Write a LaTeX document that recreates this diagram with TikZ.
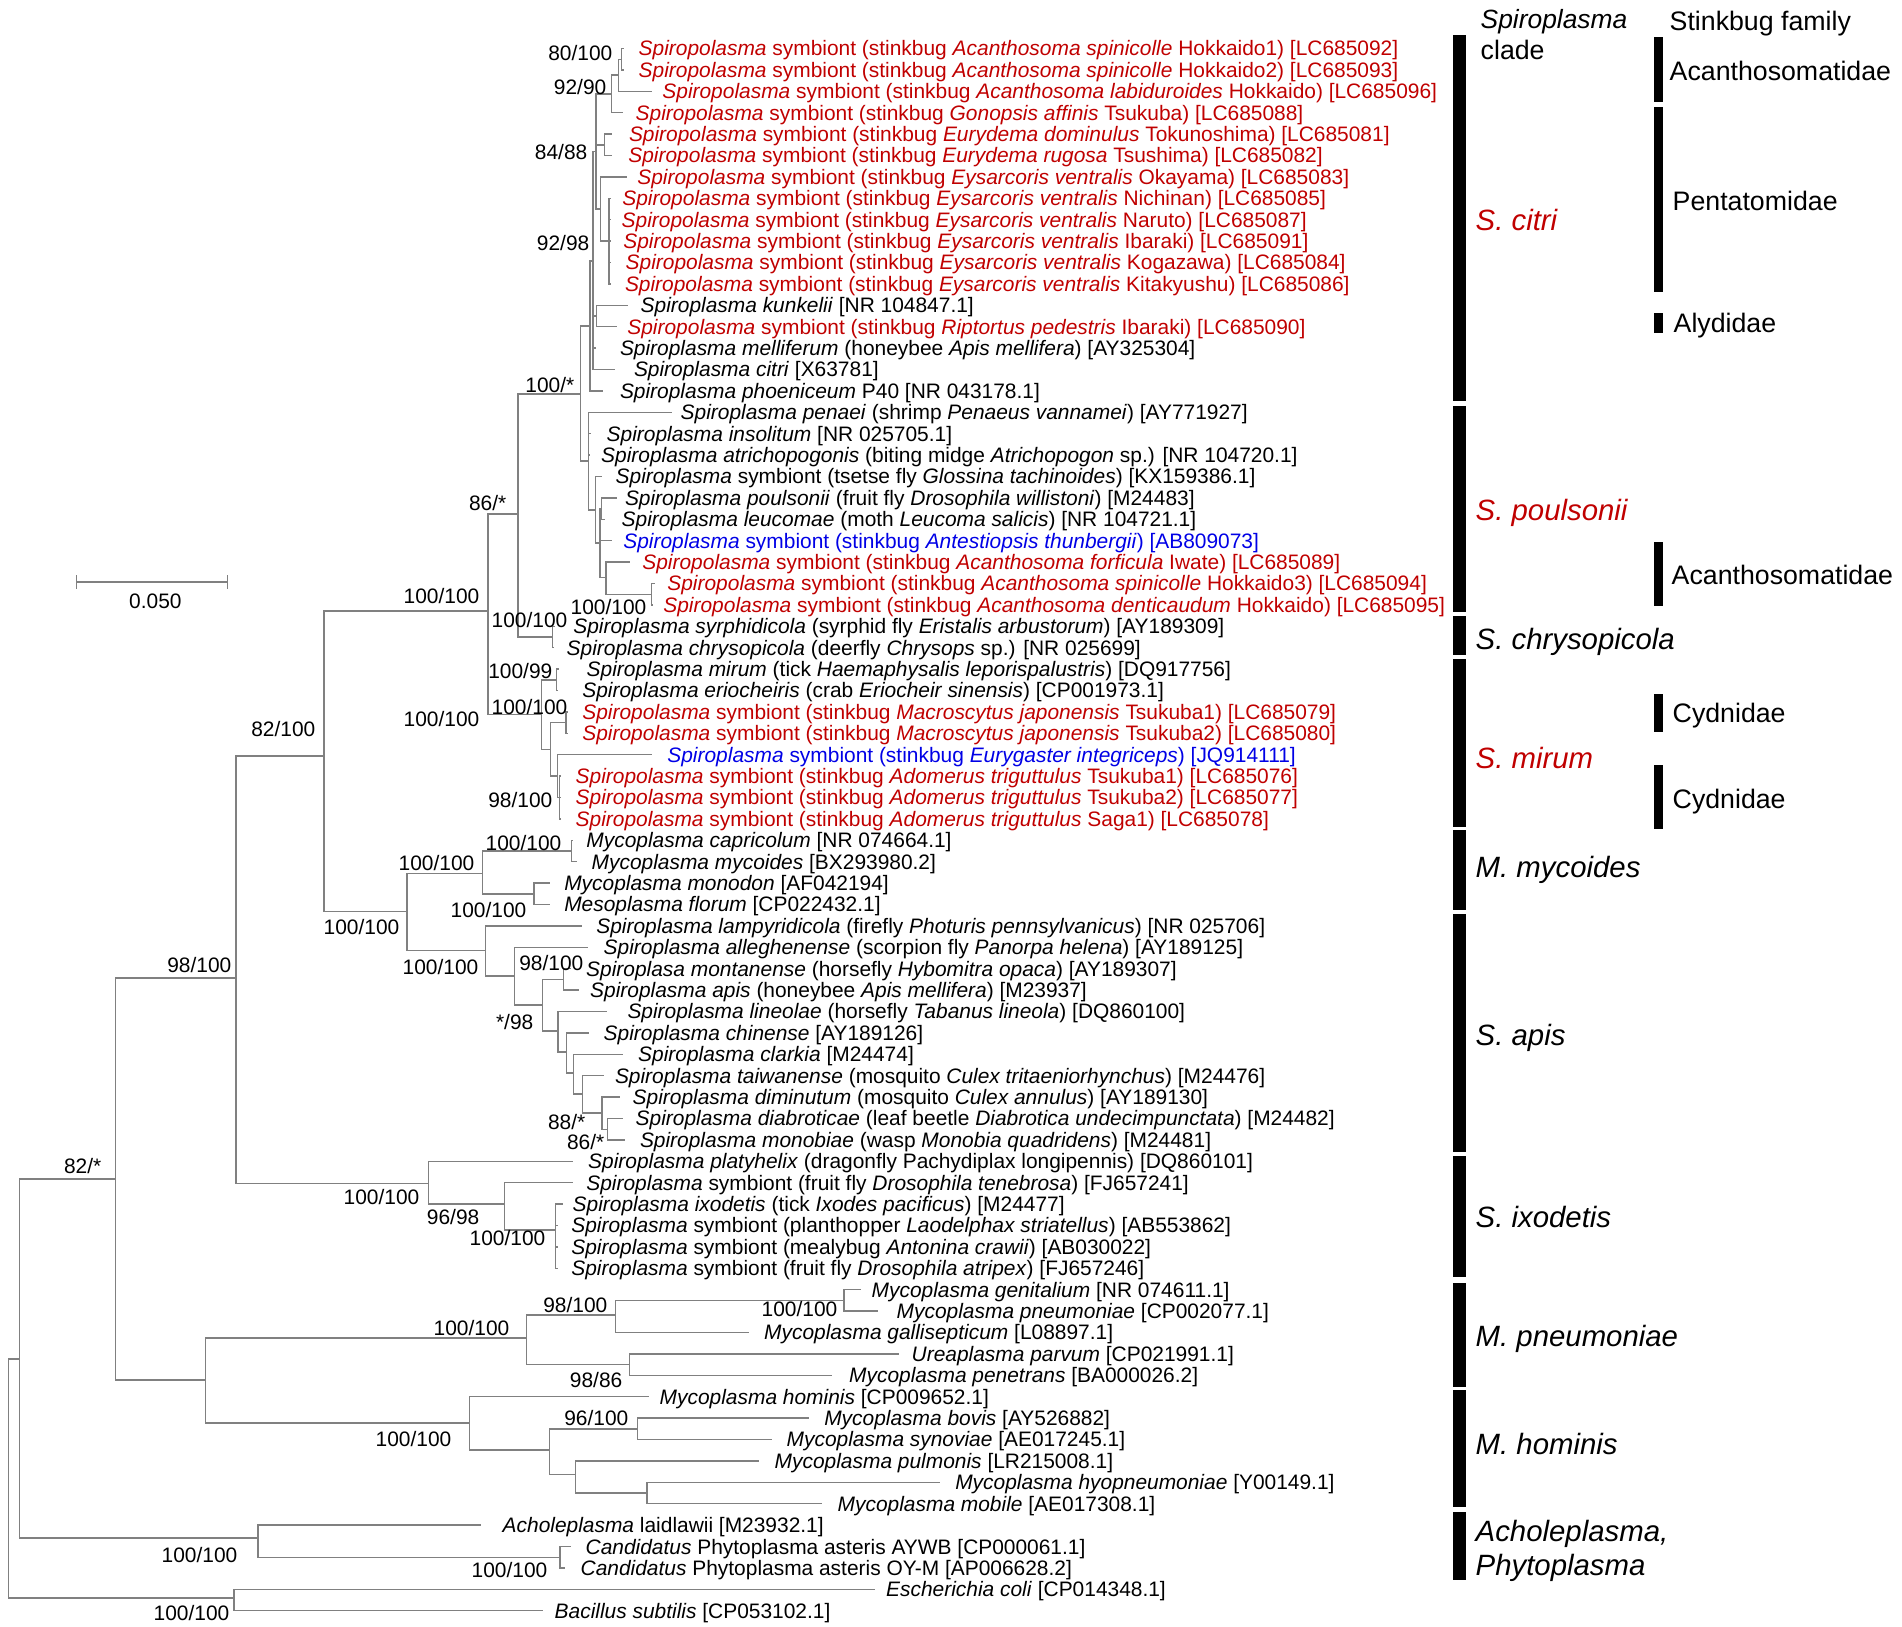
\documentclass[tikz,border=0pt]{standalone}
\usepackage{fontspec}
\setmainfont{Liberation Sans}
\definecolor{stkred}{RGB}{192,0,0}
\definecolor{stkblue}{RGB}{0,0,230}
\definecolor{branch}{RGB}{128,128,128}
\usetikzlibrary{positioning}

\begin{document}
\begin{tikzpicture}[x=0.01cm,y=-0.01cm,
    every node/.style={inner sep=0pt,font=\fontsize{5.95}{7}\selectfont},
    sp/.style={anchor=west,text height=4.25pt,text depth=0pt},
    stk/.style={sp,text=stkred},
    stb/.style={sp,text=stkblue},
    bs/.style={anchor=east,text height=4.25pt,text depth=0pt},
    br/.style={draw=branch,line width=0.4pt},
    clade/.style={anchor=west,text height=6pt,text depth=0pt,font=\fontsize{8.35}{10}\selectfont\itshape},
    fam/.style={anchor=west,text height=5.4pt,text depth=0pt,font=\fontsize{7.6}{9}\selectfont}
    ]
    \useasboundingbox (0,0) rectangle (1902,1626);

    % S. citri
    \coordinate (b1) at (624,48.5);    \node (t1) [stk] at (638,48.5) {\textit{Spiropolasma} symbiont (stinkbug \textit{Acanthosoma spinicolle} Hokkaido1) [LC685092]};
    \coordinate (b2) at (624,69.9);    \node (t2) [stk] at (638,69.9) {\textit{Spiropolasma} symbiont (stinkbug \textit{Acanthosoma spinicolle} Hokkaido2) [LC685093]};
    \coordinate (b3) at (651.7,91.3);  \node (t3) [stk] at (661.7,91.3) {\textit{Spiropolasma} symbiont (stinkbug \textit{Acanthosoma labiduroides} Hokkaido) [LC685096]};
    \coordinate (b4) at (623,112.7);   \node (t4) [stk] at (635,112.7) {\textit{Spiropolasma} symbiont (stinkbug \textit{Gonopsis affinis} Tsukuba) [LC685088]};
    \coordinate (b5) at (612,134.1);   \node (t5) [stk] at (628.3,134.1) {\textit{Spiropolasma} symbiont (stinkbug \textit{Eurydema dominulus} Tokunoshima) [LC685081]};
    \coordinate (b6) at (612,155.5);   \node (t6) [stk] at (627.7,155.5) {\textit{Spiropolasma} symbiont (stinkbug \textit{Eurydema rugosa} Tsushima) [LC685082]};
    \coordinate (b7) at (627,176.9);   \node (t7) [stk] at (636.7,176.9) {\textit{Spiropolasma} symbiont (stinkbug \textit{Eysarcoris ventralis} Okayama) [LC685083]};
    \coordinate (b8) at (611,198.3);   \node (t8) [stk] at (621.7,198.3) {\textit{Spiropolasma} symbiont (stinkbug \textit{Eysarcoris ventralis} Nichinan) [LC685085]};
    \coordinate (b9) at (611,219.7);   \node (t9) [stk] at (621,219.7) {\textit{Spiropolasma} symbiont (stinkbug \textit{Eysarcoris ventralis} Naruto) [LC685087]};
    \coordinate (b10) at (611,241.1);  \node (t10) [stk] at (622.7,241.1) {\textit{Spiropolasma} symbiont (stinkbug \textit{Eysarcoris ventralis} Ibaraki) [LC685091]};
    \coordinate (b11) at (611,262.5);  \node (t11) [stk] at (625,262.5) {\textit{Spiropolasma} symbiont (stinkbug \textit{Eysarcoris ventralis} Kogazawa) [LC685084]};
    \coordinate (b12) at (611,283.9);  \node (t12) [stk] at (624.3,283.9) {\textit{Spiropolasma} symbiont (stinkbug \textit{Eysarcoris ventralis} Kitakyushu) [LC685086]};
    \coordinate (b13) at (628,305.3);  \node (t13) [sp] at (640,305.3) {\textit{Spiroplasma kunkelii} [NR 104847.1]};
    \coordinate (b14) at (616.7,326.7); \node (t14) [stk] at (626.7,326.7) {\textit{Spiropolasma} symbiont (stinkbug \textit{Riptortus pedestris} Ibaraki) [LC685090]};
    \coordinate (b15) at (596,348.1);  \node (t15) [sp] at (619.3,348.1) {\textit{Spiroplasma melliferum} (honeybee \textit{Apis mellifera}) [AY325304]};
    \coordinate (b16) at (615,369.5);  \node (t16) [sp] at (633.3,369.5) {\textit{Spiroplasma citri} [X63781]};
    \coordinate (b17) at (603,390.9);  \node (t17) [sp] at (619.3,390.9) {\textit{Spiroplasma phoeniceum} P40 [NR 043178.1]};

    % S. poulsonii
    \coordinate (b18) at (672,412.3);  \node (t18) [sp] at (680,412.3) {\textit{Spiroplasma penaei} (shrimp \textit{Penaeus vannamei}) [AY771927]};
    \coordinate (b19) at (591,433.7);  \node (t19) [sp] at (606,433.7) {\textit{Spiroplasma insolitum} [NR 025705.1]};
    \coordinate (b20) at (590,455.1);  \node (t20) [sp] at (600.5,455.1) {\textit{Spiroplasma atrichopogonis} (biting midge \textit{Atrichopogon} sp.) [NR 104720.1]};
    \coordinate (b21) at (601.7,476.5); \node (t21) [sp] at (615,476.5) {\textit{Spiroplasma} symbiont (tsetse fly \textit{Glossina tachinoides}) [KX159386.1]};
    \coordinate (b22) at (616.7,497.9); \node (t22) [sp] at (624.3,497.9) {\textit{Spiroplasma poulsonii} (fruit fly \textit{Drosophila willistoni}) [M24483]};
    \coordinate (b23) at (605,519.3);  \node (t23) [sp] at (621,519.3) {\textit{Spiroplasma leucomae} (moth \textit{Leucoma salicis}) [NR 104721.1]};
    \coordinate (b24) at (611.7,540.7); \node (t24) [stb] at (622.7,540.7) {\textit{Spiroplasma} symbiont (stinkbug \textit{Antestiopsis thunbergii}) [AB809073]};
    \coordinate (b25) at (630,562.1);  \node (t25) [stk] at (641.7,562.1) {\textit{Spiropolasma} symbiont (stinkbug \textit{Acanthosoma forficula} Iwate) [LC685089]};
    \coordinate (b26) at (655,583.5);  \node (t26) [stk] at (666.7,583.5) {\textit{Spiropolasma} symbiont (stinkbug \textit{Acanthosoma spinicolle} Hokkaido3) [LC685094]};
    \coordinate (b27) at (653,604.9);  \node (t27) [stk] at (662.7,604.9) {\textit{Spiropolasma} symbiont (stinkbug \textit{Acanthosoma denticaudum} Hokkaido) [LC685095]};
    \coordinate (b28) at (555,626.3);  \node (t28) [sp] at (572.7,626.3) {\textit{Spiroplasma syrphidicola} (syrphid fly \textit{Eristalis arbustorum}) [AY189309]};
    \coordinate (b29) at (554,647.7);  \node (t29) [sp] at (566,647.7) {\textit{Spiroplasma chrysopicola} (deerfly \textit{Chrysops} sp.) [NR 025699]};

    % S. mirum
    \coordinate (b30) at (559,669.1);  \node (t30) [sp] at (586,669.1) {\textit{Spiroplasma mirum} (tick \textit{Haemaphysalis leporispalustris}) [DQ917756]};
    \coordinate (b31) at (557,690.5);  \node (t31) [sp] at (581.7,690.5) {\textit{Spiroplasma eriocheiris} (crab \textit{Eriocheir sinensis}) [CP001973.1]};
    \coordinate (b32) at (568,711.9);  \node (t32) [stk] at (581.7,711.9) {\textit{Spiropolasma} symbiont (stinkbug \textit{Macroscytus japonensis} Tsukuba1) [LC685079]};
    \coordinate (b33) at (568,733.3);  \node (t33) [stk] at (581.7,733.3) {\textit{Spiropolasma} symbiont (stinkbug \textit{Macroscytus japonensis} Tsukuba2) [LC685080]};
    \coordinate (b34) at (651.7,754.7); \node (t34) [stb] at (666.7,754.7) {\textit{Spiroplasma} symbiont (stinkbug \textit{Eurygaster integriceps}) [JQ914111]};
    \coordinate (b35) at (561,776.1);  \node (t35) [stk] at (575,776.1) {\textit{Spiropolasma} symbiont (stinkbug \textit{Adomerus triguttulus} Tsukuba1) [LC685076]};
    \coordinate (b36) at (561,797.5);  \node (t36) [stk] at (575,797.5) {\textit{Spiropolasma} symbiont (stinkbug \textit{Adomerus triguttulus} Tsukuba2) [LC685077]};
    \coordinate (b37) at (561,818.9);  \node (t37) [stk] at (575,818.9) {\textit{Spiropolasma} symbiont (stinkbug \textit{Adomerus triguttulus} Saga1) [LC685078]};

    % M. mycoides
    \coordinate (b38) at (573,840.3);  \node (t38) [sp] at (585.7,840.3) {\textit{Mycoplasma capricolum} [NR 074664.1]};
    \coordinate (b39) at (576.8,861.7); \node (t39) [sp] at (591,861.7) {\textit{Mycoplasma mycoides} [BX293980.2]};
    \coordinate (b40) at (550,883.1);  \node (t40) [sp] at (563.6,883.1) {\textit{Mycoplasma monodon} [AF042194]};
    \coordinate (b41) at (550,904.5);  \node (t41) [sp] at (563.6,904.5) {\textit{Mesoplasma florum} [CP022432.1]};

    % S. apis
    \coordinate (b42) at (582,925.9);  \node (t42) [sp] at (595.7,925.9) {\textit{Spiroplasma lampyridicola} (firefly \textit{Photuris pennsylvanicus}) [NR 025706]};
    \coordinate (b43) at (588,947.3);  \node (t43) [sp] at (603,947.3) {\textit{Spiroplasma alleghenense} (scorpion fly \textit{Panorpa helena}) [AY189125]};
    \coordinate (b44) at (571,968.7);  \node (t44) [sp] at (585.5,968.7) {\textit{Spiroplasa montanense} (horsefly \textit{Hybomitra opaca}) [AY189307]};
    \coordinate (b45) at (578.5,990.1); \node (t45) [sp] at (589.5,990.1) {\textit{Spiroplasma apis} (honeybee \textit{Apis mellifera}) [M23937]};
    \coordinate (b46) at (606.5,1011.5); \node (t46) [sp] at (626.8,1011.5) {\textit{Spiroplasma lineolae} (horsefly \textit{Tabanus lineola}) [DQ860100]};
    \coordinate (b47) at (589,1032.9); \node (t47) [sp] at (603,1032.9) {\textit{Spiroplasma chinense} [AY189126]};
    \coordinate (b48) at (623.2,1054.3); \node (t48) [sp] at (637.5,1054.3) {\textit{Spiroplasma clarkia} [M24474]};
    \coordinate (b49) at (603.5,1075.7); \node (t49) [sp] at (614.3,1075.7) {\textit{Spiroplasma taiwanense} (mosquito \textit{Culex tritaeniorhynchus}) [M24476]};
    \coordinate (b50) at (619.5,1097.1); \node (t50) [sp] at (632,1097.1) {\textit{Spiroplasma diminutum} (mosquito \textit{Culex annulus}) [AY189130]};
    \coordinate (b51) at (622.5,1118.5); \node (t51) [sp] at (635,1118.5) {\textit{Spiroplasma diabroticae} (leaf beetle \textit{Diabrotica undecimpunctata}) [M24482]};
    \coordinate (b52) at (625,1139.9); \node (t52) [sp] at (639.3,1139.9) {\textit{Spiroplasma monobiae} (wasp \textit{Monobia quadridens}) [M24481]};

    % S. ixodetis
    \coordinate (b53) at (573.2,1161.3); \node (t53) [sp] at (587.5,1161.3) {\textit{Spiroplasma platyhelix} (dragonfly Pachydiplax longipennis) [DQ860101]};
    \coordinate (b54) at (573.2,1182.7); \node (t54) [sp] at (585.7,1182.7) {\textit{Spiroplasma} symbiont (fruit fly \textit{Drosophila tenebrosa}) [FJ657241]};
    \coordinate (b55) at (562.5,1204.1); \node (t55) [sp] at (572,1204.1) {\textit{Spiroplasma ixodetis} (tick \textit{Ixodes pacificus}) [M24477]};
    \coordinate (b56) at (558,1225.5); \node (t56) [sp] at (570.7,1225.5) {\textit{Spiroplasma} symbiont (planthopper \textit{Laodelphax striatellus}) [AB553862]};
    \coordinate (b57) at (558,1246.9); \node (t57) [sp] at (570.7,1246.9) {\textit{Spiroplasma} symbiont (mealybug \textit{Antonina crawii}) [AB030022]};
    \coordinate (b58) at (558,1268.3); \node (t58) [sp] at (570.7,1268.3) {\textit{Spiroplasma} symbiont (fruit fly \textit{Drosophila atripex}) [FJ657246]};

    % M. pneumoniae, M. hominis
    \coordinate (b59) at (861,1289.7); \node (t59) [sp] at (871,1289.7) {\textit{Mycoplasma genitalium} [NR 074611.1]};
    \coordinate (b60) at (878,1311.1); \node (t60) [sp] at (896,1311.1) {\textit{Mycoplasma pneumoniae} [CP002077.1]};
    \coordinate (b61) at (749,1332.5); \node (t61) [sp] at (763.5,1332.5) {\textit{Mycoplasma gallisepticum} [L08897.1]};
    \coordinate (b62) at (899,1353.9); \node (t62) [sp] at (911,1353.9) {\textit{Ureaplasma parvum} [CP021991.1]};
    \coordinate (b63) at (832.4,1375.3); \node (t63) [sp] at (848.5,1375.3) {\textit{Mycoplasma penetrans} [BA000026.2]};
    \coordinate (b64) at (648.7,1396.7); \node (t64) [sp] at (659,1396.7) {\textit{Mycoplasma hominis} [CP009652.1]};
    \coordinate (b65) at (809.4,1418.1); \node (t65) [sp] at (823.6,1418.1) {\textit{Mycoplasma bovis} [AY526882]};
    \coordinate (b66) at (772,1439.5); \node (t66) [sp] at (786,1439.5) {\textit{Mycoplasma synoviae} [AE017245.1]};
    \coordinate (b67) at (759,1460.9); \node (t67) [sp] at (774,1460.9) {\textit{Mycoplasma pulmonis} [LR215008.1]};
    \coordinate (b68) at (940,1482.3); \node (t68) [sp] at (954.6,1482.3) {\textit{Mycoplasma hyopneumoniae} [Y00149.1]};
    \coordinate (b69) at (822,1503.7); \node (t69) [sp] at (837,1503.7) {\textit{Mycoplasma mobile} [AE017308.1]};

    % outgroups
    \coordinate (b70) at (481,1525.1); \node (t70) [sp] at (502,1525.1) {\textit{Acholeplasma} laidlawii [M23932.1]};
    \coordinate (b71) at (571,1546.5); \node (t71) [sp] at (585,1546.5) {\textit{Candidatus} Phytoplasma asteris AYWB [CP000061.1]};
    \coordinate (b72) at (565,1567.9); \node (t72) [sp] at (580,1567.9) {\textit{Candidatus} Phytoplasma asteris OY-M [AP006628.2]};
    \coordinate (b73) at (875,1589.3); \node (t73) [sp] at (885.5,1589.3) {\textit{Escherichia coli} [CP014348.1]};
    \coordinate (b74) at (542.5,1610.7); \node (t74) [sp] at (554,1610.7) {\textit{Bacillus subtilis} [CP053102.1]};

    % inner nodes
    \coordinate (n12) at (621.7,59.2);
    \coordinate (n13) at (618.3,75);
    \coordinate (n14) at (611.7,94);
    \coordinate (n56) at (604.3,144.8);
    \coordinate (n812) at (609,241);
    \coordinate (n712) at (600.5,209);
    \coordinate (na) at (596,151.5);
    \coordinate (n1314) at (596.5,316);
    \coordinate (nd) at (593,261);
    \coordinate (nc) at (590,326);
    \coordinate (ncit) at (580.5,394);
    \coordinate (npou) at (588.5,461);
    \coordinate (nu) at (595.5,510);
    \coordinate (nr) at (600,543);
    \coordinate (n2223) at (601.7,508.6);
    \coordinate (ns) at (606,577.4);
    \coordinate (nt) at (651.7,594.2);
    \coordinate (nl) at (518,514);
    \coordinate (nsc) at (552.5,637);
    \coordinate (nk) at (488,611);
    \coordinate (nmir) at (541.7,714.5);
    \coordinate (nw) at (556.5,679.8);
    \coordinate (nx) at (550.7,749.3);
    \coordinate (ny) at (566,722.6);
    \coordinate (nz) at (557.3,776);
    \coordinate (nad) at (559.3,797.5);
    \coordinate (nj) at (324,756);
    \coordinate (no) at (407,911.6);
    \coordinate (nmyc) at (482.4,873.7);
    \coordinate (n3839) at (571.4,851);
    \coordinate (n4041) at (534,893.8);
    \coordinate (a1) at (485.7,950.7);
    \coordinate (a2) at (514.3,976);
    \coordinate (a3) at (542.5,1005);
    \coordinate (a4) at (563.3,979.4);
    \coordinate (a5) at (558,1031);
    \coordinate (a6) at (566.3,1052);
    \coordinate (a7) at (573.3,1073);
    \coordinate (a8) at (582.4,1094);
    \coordinate (a9) at (602,1113);
    \coordinate (a10) at (607.6,1129.2);
    \coordinate (ne) at (236,978);
    \coordinate (x1) at (428.6,1183.3);
    \coordinate (x2) at (504.3,1204);
    \coordinate (x3) at (555.4,1230);
    \coordinate (nbig) at (115.7,1179);
    \coordinate (nf) at (205.5,1380);
    \coordinate (g1) at (526.4,1338);
    \coordinate (g2) at (615.4,1315);
    \coordinate (g3) at (843.9,1300.4);
    \coordinate (g4) at (629.7,1364.6);
    \coordinate (h1) at (469.6,1423);
    \coordinate (h2) at (549.4,1450);
    \coordinate (h3) at (637.2,1428.8);
    \coordinate (h4) at (575.2,1474.3);
    \coordinate (h5) at (647,1493);
    \coordinate (nach) at (258,1538);
    \coordinate (nphy) at (560,1557.2);
    \coordinate (nmol) at (19.5,1359);
    \coordinate (nout) at (234,1598);
    \coordinate (root) at (8.5,1478);

    % the edges
    \draw [br] (n12) |- (b1) (n12) |- (b2);
    \draw [br] (n13) |- (n12) (n13) |- (b3);
    \draw [br] (n14) |- (n13) (n14) |- (b4);
    \draw [br] (n56) |- (b5) (n56) |- (b6);
    \draw [br] (n812) |- (b8) (n812) |- (b9) (n812) |- (b10) (n812) |- (b11) (n812) |- (b12);
    \draw [br] (n712) |- (b7) (n712) |- (n812);
    \draw [br] (na) |- (n14) (na) |- (n56) (na) |- (n712);
    \draw [br] (n1314) |- (b13) (n1314) |- (b14);
    \draw [br] (nd) |- (na) (nd) |- (n1314) (nd) |- (b15) (nd) |- (b16);
    \draw [br] (nc) |- (nd) (nc) |- (b17);
    \draw [br] (ncit) |- (nc) (ncit) |- (npou);
    \draw [br] (npou) |- (b18) (npou) |- (b19) (npou) |- (b20) (npou) |- (nu);
    \draw [br] (nu) |- (b21) (nu) |- (nr);
    \draw [br] (nr) |- (n2223) (nr) |- (b24) (nr) |- (ns);
    \draw [br] (n2223) |- (b22) (n2223) |- (b23);
    \draw [br] (ns) |- (b25) (ns) |- (nt);
    \draw [br] (nt) |- (b26) (nt) |- (b27);
    \draw [br] (nl) |- (ncit) (nl) |- (nsc);
    \draw [br] (nsc) |- (b28) (nsc) |- (b29);
    \draw [br] (nk) |- (nl) (nk) |- (nmir);
    \draw [br] (nmir) |- (nw) (nmir) |- (nx);
    \draw [br] (nw) |- (b30) (nw) |- (b31);
    \draw [br] (nx) |- (ny) (nx) |- (nz);
    \draw [br] (ny) |- (b32) (ny) |- (b33);
    \draw [br] (nz) |- (b34) (nz) |- (nad);
    \draw [br] (nad) |- (b35) (nad) |- (b36) (nad) |- (b37);
    \draw [br] (nj) |- (nk) (nj) |- (no);
    \draw [br] (no) |- (nmyc) (no) |- (a1);
    \draw [br] (nmyc) |- (n3839) (nmyc) |- (n4041);
    \draw [br] (n3839) |- (b38) (n3839) |- (b39);
    \draw [br] (n4041) |- (b40) (n4041) |- (b41);
    \draw [br] (a1) |- (b42) (a1) |- (a2);
    \draw [br] (a2) |- (b43) (a2) |- (a3);
    \draw [br] (a3) |- (a4) (a3) |- (a5);
    \draw [br] (a4) |- (b44) (a4) |- (b45);
    \draw [br] (a5) |- (b46) (a5) |- (a6);
    \draw [br] (a6) |- (b47) (a6) |- (a7);
    \draw [br] (a7) |- (b48) (a7) |- (a8);
    \draw [br] (a8) |- (b49) (a8) |- (a9);
    \draw [br] (a9) |- (b50) (a9) |- (a10);
    \draw [br] (a10) |- (b51) (a10) |- (b52);
    \draw [br] (ne) |- (nj) (ne) |- (x1);
    \draw [br] (x1) |- (b53) (x1) |- (x2);
    \draw [br] (x2) |- (b54) (x2) |- (x3);
    \draw [br] (x3) |- (b55) (x3) |- (b56) (x3) |- (b57) (x3) |- (b58);
    \draw [br] (nbig) |- (ne) (nbig) |- (nf);
    \draw [br] (nf) |- (g1) (nf) |- (h1);
    \draw [br] (g1) |- (g2) (g1) |- (g4);
    \draw [br] (g2) |- (g3) (g2) |- (b61);
    \draw [br] (g3) |- (b59) (g3) |- (b60);
    \draw [br] (g4) |- (b62) (g4) |- (b63);
    \draw [br] (h1) |- (b64) (h1) |- (h2);
    \draw [br] (h2) |- (h3) (h2) |- (h4);
    \draw [br] (h3) |- (b65) (h3) |- (b66);
    \draw [br] (h4) |- (b67) (h4) |- (h5);
    \draw [br] (h5) |- (b68) (h5) |- (b69);
    \draw [br] (nach) |- (b70) (nach) |- (nphy);
    \draw [br] (nphy) |- (b71) (nphy) |- (b72);
    \draw [br] (nmol) |- (nbig) (nmol) |- (nach);
    \draw [br] (nout) |- (b73) (nout) |- (b74);
    \draw [br] (root) |- (nmol) (root) |- (nout);

    % support values
    \node (s1) [bs] at (613,53) {80/100};
    \node (s2) [bs] at (607,87) {92/90};
    \node (s3) [bs] at (588,152) {84/88};
    \node (s4) [bs] at (590,243) {92/98};
    \node (s5) [bs] at (575,385) {100/*};
    \node (s6) [bs] at (507,503) {86/*};
    \node (s7) [bs] at (480,596) {100/100};
    \node (s8) [bs] at (647,607) {100/100};
    \node (s9) [bs] at (568,620) {100/100};
    \node (s10) [bs] at (553,671) {100/99};
    \node (s11) [bs] at (568,707) {100/100};
    \node (s12) [bs] at (480,719) {100/100};
    \node (s13) [bs] at (553,800) {98/100};
    \node (s14) [bs] at (316,729) {82/100};
    \node (s15) [bs] at (562,843) {100/100};
    \node (s16) [bs] at (475,863) {100/100};
    \node (s17) [bs] at (527,910) {100/100};
    \node (s18) [bs] at (400,927) {100/100};
    \node (s19) [bs] at (479,967) {100/100};
    \node (s20) [bs] at (584,963) {98/100};
    \node (s21) [bs] at (534,1022) {*/98};
    \node (s22) [bs] at (586,1122) {88/*};
    \node (s23) [bs] at (605,1142) {86/*};
    \node (s24) [bs] at (420,1197) {100/100};
    \node (s25) [bs] at (480,1217) {96/98};
    \node (s26) [bs] at (546,1238) {100/100};
    \node (s27) [bs] at (232,965) {98/100};
    \node (s28) [bs] at (102,1166) {82/*};
    \node (s29) [bs] at (608,1305) {98/100};
    \node (s30) [bs] at (510,1328) {100/100};
    \node (s31) [bs] at (838,1309) {100/100};
    \node (s32) [bs] at (623,1380) {98/86};
    \node (s33) [bs] at (629,1418) {96/100};
    \node (s34) [bs] at (452,1439) {100/100};
    \node (s35) [bs] at (238,1555) {100/100};
    \node (s36) [bs] at (548,1570) {100/100};
    \node (s37) [bs] at (230,1613) {100/100};

    % scale bar
    \coordinate (sb1) at (76.3,582);
    \coordinate (sb2) at (227.3,582);
    \draw [br] (sb1) -- (sb2) ([yshift=0.07cm]sb1) -- ([yshift=-0.07cm]sb1) ([yshift=0.07cm]sb2) -- ([yshift=-0.07cm]sb2);
    \node (sbl) [anchor=center,text height=4.25pt,text depth=0pt] at (155.4,601) {0.050};

    % clades
    \node (hd1) [fam,font=\fontsize{7.5}{9}\selectfont\itshape] at (1480,19) {Spiroplasma};
    \node (hd2) [fam] at (1480,50) {clade};
    \node (hd3) [fam] at (1669,20.6) {Stinkbug family};
    \fill (1453,35) rectangle (1466,401);
    \fill (1453,405.5) rectangle (1466,611.5);
    \fill (1453,615.5) rectangle (1466,654.5);
    \fill (1453,658.5) rectangle (1466,826.5);
    \fill (1453,830) rectangle (1466,910);
    \fill (1453,914) rectangle (1466,1152);
    \fill (1453,1156) rectangle (1466,1277);
    \fill (1453,1283) rectangle (1466,1386.5);
    \fill (1453,1390) rectangle (1466,1506.5);
    \fill (1453,1511.5) rectangle (1466,1580);
    \node (c1) [clade,text=stkred] at (1475,219.5) {S. citri};
    \node (c2) [clade,text=stkred] at (1475,509.5) {S. poulsonii};
    \node (c3) [clade] at (1475,638.5) {S. chrysopicola};
    \node (c4) [clade,text=stkred] at (1475,757.7) {S. mirum};
    \node (c5) [clade] at (1475,867.3) {M. mycoides};
    \node (c6) [clade] at (1475,1035) {S. apis};
    \node (c7) [clade] at (1475,1217) {S. ixodetis};
    \node (c8) [clade] at (1475,1335.7) {M. pneumoniae};
    \node (c9) [clade] at (1475,1443.7) {M. hominis};
    \node (c10) [clade] at (1475,1530.5) {Acholeplasma,};
    \node (c11) [clade] at (1475,1564.5) {Phytoplasma};

    % stinkbug families
    \fill (1654,37) rectangle (1663,102);
    \fill (1654,107.3) rectangle (1663,291.6);
    \fill (1654,313.3) rectangle (1663,333.3);
    \fill (1654,542) rectangle (1663,606);
    \fill (1654,694) rectangle (1663,731.7);
    \fill (1654,765.3) rectangle (1663,829.3);
    \node (f1) [fam] at (1669,70.5) {Acanthosomatidae};
    \node (f2) [fam] at (1672,200.5) {Pentatomidae};
    \node (f3) [fam] at (1673,322.5) {Alydidae};
    \node (f4) [fam] at (1671,574.5) {Acanthosomatidae};
    \node (f5) [fam] at (1672,712.7) {Cydnidae};
    \node (f6) [fam] at (1672,799.4) {Cydnidae};
\end{tikzpicture}
\end{document}
